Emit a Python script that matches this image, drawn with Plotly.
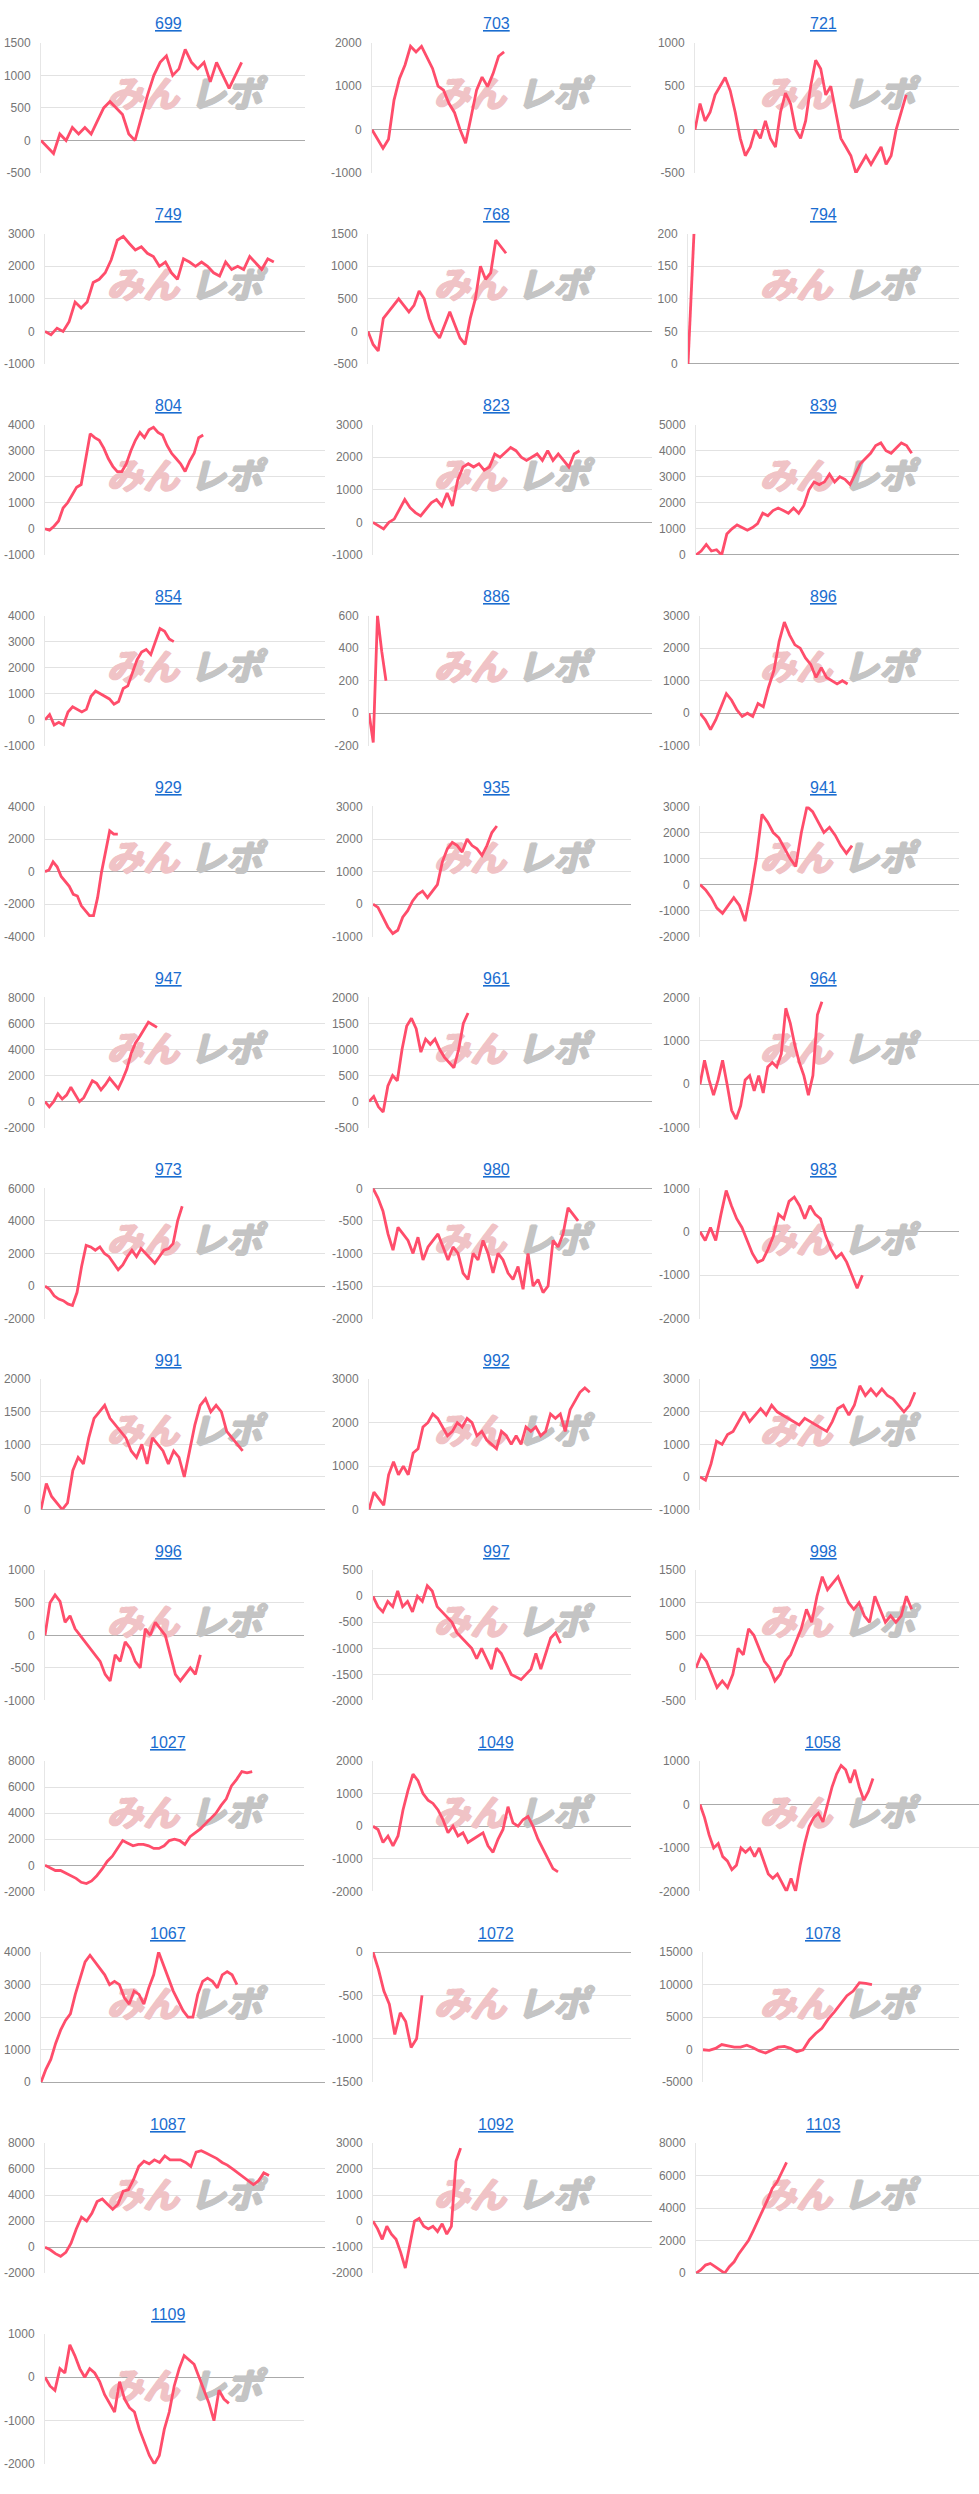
import plotly.graph_objects as go

# ---------------- data ----------------
titles = ["699", "703", "721", "749", "768", "794", "804", "823", "839", "854", "886", "896",
          "929", "935", "941", "947", "961", "964", "973", "980", "983", "991", "992", "995",
          "996", "997", "998", "1027", "1049", "1058", "1067", "1072", "1078", "1087", "1092",
          "1103", "1109"]

s699 = [0, -100, -200, 100, 0, 200, 100, 200, 100, 300, 500, 600, 500, 400, 100, 0, 350, 700, 1000,
        1200, 1300, 1000, 1100, 1400, 1200, 1100, 1200, 900, 1200, 1000, 800, 1000, 1200]
s703 = [0, -200, -430, -220, 680, 1180, 1490, 1920, 1790, 1920, 1680, 1410, 1000, 910, 600, 390, 0,
        -310, 290, 910, 1210, 990, 1290, 1690, 1790]
s721 = [0, 300, 100, 200, 400, 500, 600, 450, 200, -100, -300, -200, 0, -100, 100, -100, -200, 200,
        420, 300, 0, -100, 100, 500, 800, 700, 400, 500, 200, -100, -200, -300, -500, -400, -300,
        -400, -300, -200, -400, -300, 0, 200, 400]
s749 = [0, -100, 100, 0, 300, 900, 720, 900, 1500, 1600, 1800, 2200, 2800, 2920, 2700, 2500, 2600,
        2400, 2300, 2000, 2130, 1800, 1600, 2230, 2130, 2000, 2130, 2000, 1800, 1700, 2130, 1900,
        2000, 1900, 2300, 2100, 1900, 2230, 2130]
s768 = [0, -200, -300, 200, 300, 400, 500, 400, 300, 400, 620, 500, 200, 0, -100, 100, 300, 100,
        -100, -200, 200, 500, 1000, 800, 900, 1400, 1300, 1200]
s794 = [0, 200]
s804 = [0, -50, 100, 300, 800, 1000, 1300, 1600, 1700, 2600, 3650, 3500, 3400, 3100, 2700, 2400,
        2200, 2200, 2500, 3000, 3400, 3700, 3500, 3800, 3900, 3700, 3600, 3200, 2900, 2700, 2500,
        2200, 2600, 2900, 3500, 3600]
s823 = [0, -100, -200, 0, 100, 400, 700, 450, 300, 200, 400, 600, 700, 500, 900, 500, 1300, 1700,
        1800, 1700, 1800, 1600, 1700, 2100, 2000, 2150, 2300, 2200, 2000, 1900, 2000, 2100, 1900,
        2200, 1900, 2100, 1900, 1700, 2100, 2200]
s839 = [0, 150, 400, 150, 200, 0, 800, 1000, 1150, 1050, 950, 1050, 1200, 1600, 1500, 1700, 1800,
        1700, 1600, 1800, 1600, 1900, 2500, 2800, 2700, 2800, 3100, 2800, 3000, 2900, 2700, 3100,
        3500, 3700, 3900, 4200, 4300, 4000, 3900, 4100, 4300, 4200, 3900]
s854 = [0, 200, -200, -100, -200, 300, 500, 400, 300, 400, 900, 1100, 1000, 900, 800, 600, 700,
        1200, 1300, 1800, 2300, 2600, 2700, 2500, 3000, 3500, 3400, 3100, 3000]
s886 = [0, -180, 600, 380, 200]
s896 = [0, -200, -500, -200, 200, 600, 400, 100, -100, 0, -100, 300, 200, 800, 1300, 2200, 2800,
        2400, 2100, 2000, 1700, 1500, 1100, 1400, 1100, 1000, 900, 1000, 900]
s929 = [0, 100, 600, 300, -300, -600, -900, -1400, -1500, -2100, -2400, -2700, -2700, -1600, 0,
        1200, 2500, 2300, 2300]
s935 = [0, -100, -400, -700, -900, -800, -400, -200, 100, 300, 400, 200, 400, 600, 1300, 1700,
        1900, 1800, 1600, 2000, 1800, 1700, 1500, 1800, 2200, 2400]
s941 = [0, -200, -500, -900, -1100, -800, -500, -800, -1400, -300, 1000, 2700, 2400, 2000, 1800,
        1400, 1000, 700, 2000, 3000, 2800, 2400, 2000, 2200, 1900, 1500, 1200, 1500]
s947 = [0, -400, 0, 600, 200, 500, 1100, 600, 0, 300, 1000, 1600, 1400, 900, 1300, 1800, 1400,
        1000, 1700, 2500, 3700, 4500, 5000, 5600, 6100, 5900, 5700]
s961 = [0, 100, -100, -200, 300, 500, 400, 1000, 1450, 1600, 1400, 950, 1200, 1100, 1200, 1000,
        850, 750, 650, 1000, 1500, 1700]
s964 = [0, 550, 100, -250, 100, 550, 0, -600, -800, -500, 100, 200, -150, 200, -200, 400, 500, 400,
        700, 1750, 1400, 900, 500, 200, -250, 200, 1600, 1900]
s973 = [0, -200, -600, -800, -900, -1100, -1200, -400, 1200, 2500, 2400, 2200, 2400, 2000, 1800,
        1400, 1000, 1300, 1800, 2200, 1800, 2300, 2000, 1700, 1400, 1800, 2200, 2300, 2600, 4000,
        4900]
s980 = [0, -150, -350, -700, -950, -600, -700, -800, -1000, -750, -1100, -900, -800, -700, -900,
        -1100, -900, -1000, -1300, -1400, -1000, -1100, -800, -1000, -1300, -1000, -1100, -1300,
        -1400, -1200, -1550, -1000, -1500, -1400, -1600, -1500, -800, -900, -700, -300, -400, -500]
s983 = [0, -200, 100, -200, 400, 950, 600, 300, 100, -200, -500, -700, -650, -400, -100, 400, 300,
        700, 800, 600, 300, 600, 400, 300, -100, -400, -600, -500, -700, -1000, -1300, -1000]
s991 = [0, 400, 200, 100, 0, 100, 600, 800, 700, 1100, 1400, 1500, 1600, 1400, 1300, 1200, 1100,
        900, 800, 1000, 700, 1100, 1000, 900, 700, 900, 800, 500, 900, 1300, 1600, 1700, 1500, 1600,
        1500, 1200, 1100, 1000, 900]
s992 = [0, 400, 250, 100, 800, 1100, 800, 1000, 800, 1300, 1400, 1900, 2000, 2200, 2100, 1900, 1700,
        1800, 2000, 1900, 2100, 2000, 1700, 1800, 1600, 1500, 1400, 1800, 1700, 1500, 1700, 1500,
        1900, 1800, 1900, 1700, 1800, 2200, 2100, 2200, 1800, 2300, 2500, 2700, 2800, 2700]
s995 = [0, -100, 400, 1100, 1000, 1300, 1400, 1700, 2000, 1700, 1900, 2100, 1900, 2200, 2000, 1900,
        1800, 1700, 1600, 1800, 1700, 1600, 1500, 1400, 1700, 2100, 2200, 1900, 2200, 2800, 2500,
        2700, 2500, 2700, 2500, 2400, 2200, 2000, 2200, 2600]
s996 = [0, 500, 620, 520, 200, 300, 100, 0, -100, -200, -300, -400, -600, -700, -300, -400, -100,
        -200, -400, -500, 100, 0, 200, 100, 0, -300, -600, -700, -600, -500, -600, -300]
s997 = [0, -200, -300, -100, -200, 100, -200, -100, -300, 0, -100, 200, 100, -200, -300, -400, -500,
        -700, -800, -900, -1000, -1200, -1000, -1200, -1400, -1000, -1100, -1300, -1500, -1550,
        -1600, -1500, -1400, -1100, -1400, -1100, -800, -700, -900]
s998 = [0, 200, 100, -100, -300, -200, -300, -100, 300, 200, 600, 500, 300, 100, 0, -200, -100, 100,
        200, 400, 600, 900, 700, 1100, 1400, 1200, 1300, 1400, 1200, 1000, 900, 1000, 800, 700, 1100,
        900, 700, 800, 700, 800, 1100, 900]
s1027 = [0, -200, -400, -400, -600, -800, -1000, -1300, -1400, -1200, -800, -300, 300, 700, 1300,
         1900, 1700, 1500, 1600, 1600, 1500, 1300, 1300, 1500, 1900, 2000, 1900, 1600, 2200, 2500,
         2800, 3200, 3600, 4000, 4600, 5100, 6100, 6600, 7200, 7100, 7200]
s1049 = [0, -100, -500, -300, -600, -300, 500, 1100, 1600, 1400, 1000, 800, 700, 500, 200, -200, 0,
         -300, -200, -500, -400, -300, -200, -600, -800, -400, -100, 600, 100, 0, 200, 300, 0, -400,
         -700, -1000, -1300, -1400]
s1058 = [0, -300, -700, -1000, -900, -1200, -1300, -1500, -1400, -1000, -1100, -1000, -1200, -1000,
         -1300, -1600, -1700, -1600, -1800, -2000, -1700, -2000, -1400, -900, -500, -300, -200, -400,
         0, 400, 700, 900, 800, 500, 800, 400, 100, 300, 600]
s1067 = [0, 400, 700, 1200, 1600, 1900, 2100, 2700, 3200, 3700, 3900, 3700, 3500, 3300, 3000, 3100,
         3000, 2600, 2400, 2800, 2700, 2400, 2900, 3300, 4000, 3600, 3200, 2800, 2500, 2200, 2000,
         2000, 2700, 3100, 3200, 3100, 2900, 3300, 3400, 3300, 3000]
s1072 = [0, -200, -450, -600, -950, -700, -800, -1100, -1000, -500]
s1078 = [0, -100, 200, 800, 600, 400, 400, 700, 300, -200, -500, 0, 400, 500, 200, -300, 0, 1500,
         2500, 3300, 4700, 5800, 7000, 8300, 9000, 10300, 10200, 10000]
s1087 = [0, -200, -500, -700, -400, 300, 1400, 2300, 2000, 2600, 3500, 3700, 3300, 2900, 3300, 4300,
         4400, 5200, 6200, 6600, 6400, 6700, 6500, 7000, 6700, 6700, 6700, 6500, 6200, 7300, 7400,
         7200, 7000, 6800, 6500, 6300, 6000, 5700, 5400, 5100, 4800, 5100, 5700, 5500]
s1092 = [0, -300, -700, -200, -500, -700, -1200, -1800, -900, 0, 100, -200, -300, -200, -400, -100,
         -500, -200, 2300, 2800]
s1103 = [0, 200, 500, 600, 400, 200, 0, 400, 700, 1200, 1600, 2000, 2600, 3200, 3800, 4500, 5200,
         5600, 6200, 6800]
s1109 = [0, -200, -300, 200, 100, 750, 500, 200, 0, 200, 100, -100, -400, -600, -800, -100, -500,
         -700, -800, -1200, -1500, -1800, -2000, -1800, -1200, -800, -200, 200, 500, 400, 300, 0,
         -300, -600, -1000, -300, -500, -600]

series = [s699, s703, s721, s749, s768, s794, s804, s823, s839, s854, s886, s896, s929, s935, s941,
          s947, s961, s964, s973, s980, s983, s991, s992, s995, s996, s997, s998, s1027, s1049,
          s1058, s1067, s1072, s1078, s1087, s1092, s1103, s1109]

# y axis: (min, max, step)
y_axes = [(-500, 1500, 500), (-1000, 2000, 1000), (-500, 1000, 500),
          (-1000, 3000, 1000), (-500, 1500, 500), (0, 200, 50),
          (-1000, 4000, 1000), (-1000, 3000, 1000), (0, 5000, 1000),
          (-1000, 4000, 1000), (-200, 600, 200), (-1000, 3000, 1000),
          (-4000, 4000, 2000), (-1000, 3000, 1000), (-2000, 3000, 1000),
          (-2000, 8000, 2000), (-500, 2000, 500), (-1000, 2000, 1000),
          (-2000, 6000, 2000), (-2000, 0, 500), (-2000, 1000, 1000),
          (0, 2000, 500), (0, 3000, 1000), (-1000, 3000, 1000),
          (-1000, 1000, 500), (-2000, 500, 500), (-500, 1500, 500),
          (-2000, 8000, 2000), (-2000, 2000, 1000), (-2000, 1000, 1000),
          (0, 4000, 1000), (-1500, 0, 500), (-5000, 15000, 5000),
          (-2000, 8000, 2000), (-2000, 3000, 1000), (0, 8000, 2000),
          (-2000, 1000, 1000)]

# ---------------- layout geometry (pixels) ----------------
W, H = 979, 2494
ROW_H = 192
plot_lr = [(41, 305), (372, 631), (695, 959), (45, 305), (368, 652), (688, 959),
           (45, 325), (373, 652), (696, 959), (45, 325), (369, 652), (700, 959),
           (45, 325), (373, 631), (700, 959), (45, 325), (369, 652), (700, 979),
           (45, 325), (373, 652), (700, 959), (41, 325), (369, 652), (700, 959),
           (45, 304), (373, 631), (696, 959), (45, 304), (373, 631), (700, 979),
           (41, 325), (373, 631), (703, 959), (45, 325), (373, 652), (696, 979),
           (45, 304)]
# fraction of plot width covered by each series
span_frac = [0.76, 0.51, 0.80, 0.88, 0.486, 0.022, 0.565, 0.74, 0.82, 0.46, 0.06, 0.57,
             0.26, 0.48, 0.587, 0.40, 0.35, 0.437, 0.49, 0.735, 0.627, 0.71, 0.78, 0.83,
             0.60, 0.727, 0.82, 0.80, 0.717, 0.62, 0.69, 0.19, 0.66, 0.80, 0.314, 0.32, 0.71]
title_x = [168, 496, 823]
wm_x = [(143, 226), (470, 553), (796, 879)]
WM_DY = 92
# small pixel offsets used to thicken the watermark glyph strokes
WM_OFFSETS = [(-1.2, 0), (0, 0), (1.2, 0), (0, -1), (0, 1)]

LINE_COLOR = "#FF4D6B"
FONT = "Arial, Liberation Sans, sans-serif"

fig = go.Figure()
annotations = []
layout_axes = {}

for i, (name, ys) in enumerate(zip(titles, series)):
    k = i + 1
    row, col = divmod(i, 3)
    left, right = plot_lr[i]
    top = row * ROW_H + 36
    bottom = row * ROW_H + 167
    xs = list(range(len(ys)))
    xmax = (len(ys) - 1) / span_frac[i]
    ymin, ymax, step = y_axes[i]
    xa = "x" if k == 1 else f"x{k}"
    ya = "y" if k == 1 else f"y{k}"

    def px2x(px):
        return (px - left) / (right - left) * xmax

    def py2y(py):
        return ymin + (bottom - py) / (bottom - top) * (ymax - ymin)

    # watermark (drawn first, so below the line)
    wx, wy, wt, wc = [], [], [], []
    for dx, dy in WM_OFFSETS:
        for cx, txt, colr in ((wm_x[col][0], "みん", "#f0c3c6"),
                              (wm_x[col][1], "レポ", "#c4c4c4")):
            wx.append(px2x(cx + dx))
            wy.append(py2y(row * ROW_H + WM_DY + dy))
            wt.append(txt)
            wc.append(colr)
    fig.add_trace(go.Scatter(x=wx, y=wy, mode="text", text=wt, xaxis=xa, yaxis=ya,
                             textposition="middle center", cliponaxis=False,
                             textfont=dict(family="Noto Sans CJK JP", size=36, color=wc,
                                           weight="bold", style="italic"),
                             hoverinfo="skip", showlegend=False))

    fig.add_trace(go.Scatter(x=xs, y=ys, mode="lines", xaxis=xa, yaxis=ya,
                             line=dict(color=LINE_COLOR, width=2.8), hoverinfo="skip",
                             showlegend=False))
    tv = list(range(ymin, ymax + 1, step))
    layout_axes["xaxis" if k == 1 else f"xaxis{k}"] = dict(
        domain=[left / W, right / W], anchor=ya, range=[0, xmax], visible=False, fixedrange=True)
    layout_axes["yaxis" if k == 1 else f"yaxis{k}"] = dict(
        domain=[1 - bottom / H, 1 - top / H], anchor=xa, range=[ymin, ymax],
        tickmode="array", tickvals=tv, ticktext=[str(v) for v in tv],
        showgrid=True, gridcolor="#e2e2e2", gridwidth=1,
        zeroline=True, zerolinecolor="#aaaaaa", zerolinewidth=1,
        showline=True, linecolor="#e6e6e6", linewidth=1,
        ticks="", ticklabelstandoff=7,
        tickfont=dict(family=FONT, size=12, color="#757575"), fixedrange=True)
    annotations.append(dict(
        text=f"<u>{name}</u>", xref="paper", yref="paper",
        x=title_x[col] / W, y=1 - (row * ROW_H + 17) / H, xanchor="center", yanchor="middle",
        showarrow=False, font=dict(family=FONT, size=16, color="#1a6dd0")))

fig.update_layout(
    width=W, height=H, margin=dict(l=0, r=0, t=0, b=0),
    paper_bgcolor="white", plot_bgcolor="white", showlegend=False,
    annotations=annotations, **layout_axes)

fig.write_html("out.html", post_script="document.body.style.margin='0';",
               config={"displayModeBar": False})
